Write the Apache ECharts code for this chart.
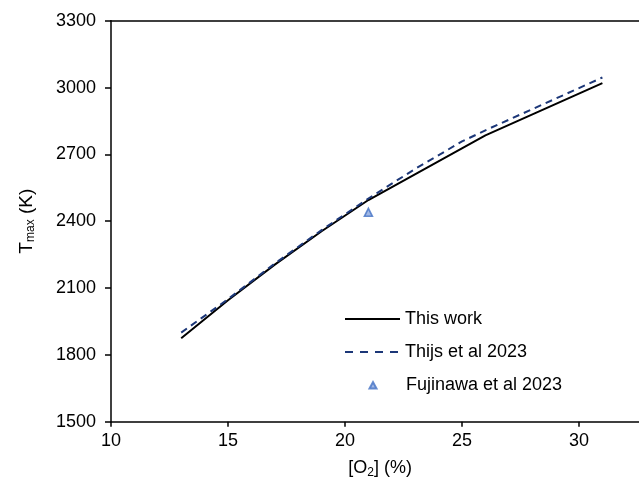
<!DOCTYPE html>
<html>
<head>
<meta charset="utf-8">
<script src="https://cdn.jsdelivr.net/npm/echarts@6/dist/echarts.min.js"></script>
<style>
  html, body { margin: 0; padding: 0; background: #fff; }
  #chart { width: 639px; height: 486px; }
</style>
</head>
<body>
<div id="chart"></div>
<script>
// Peak temperature vs oxygen concentration
const o2ThisWork = [13, 15, 17, 19, 21, 26, 31];
const tThisWork = [1875, 2045, 2205, 2355, 2495, 2785, 3020];

const o2Thijs = [13, 15, 17, 19, 21, 23, 25, 26, 31];
const tThijs = [1900, 2050, 2210, 2360, 2502, 2635, 2758, 2808, 3045];

const o2Fujinawa = [21];
const tFujinawa = [2440];

const seriesNames = ['This work', 'Thijs et al 2023', 'Fujinawa et al 2023'];

const yTicks = [1500, 1800, 2100, 2400, 2700, 3000, 3300];

const pairs = (xs, ys) => xs.map((x, i) => [x, ys[i]]);

const FONT = 'Liberation Sans, Arial, sans-serif';
const DASH_COLOR = '#1c3778';

const chart = echarts.init(document.getElementById('chart'), null, { renderer: 'canvas' });

const legendText = { fontFamily: FONT, fontSize: 18, color: '#000' };

// legend icons drawn in a 55x14 box
const solidIcon = 'path://M0,6 L55,6 L55,8 L0,8 Z';
const dashIcon = 'path://M0,6 L8,6 L8,8 L0,8 Z M15,6 L23,6 L23,8 L15,8 Z M30,6 L38,6 L38,8 L30,8 Z M45,6 L53,6 L53,8 L45,8 Z M55,7 Z';
const triIcon = 'path://M0,0 Z M55,14 Z M23.5,10.5 L27,4 L30.5,10.5 Z';

chart.setOption({
  animation: false,
  backgroundColor: '#fff',
  grid: {
    left: 111, top: 20.7, height: 401, width: 538.2,
    containLabel: false, outerBoundsMode: 'none'
  },
  legend: [
    {
      data: [{ name: seriesNames[0], icon: solidIcon }],
      left: 340, top: 305, itemWidth: 55, itemHeight: 14, textStyle: legendText
    },
    {
      data: [{ name: seriesNames[1], icon: dashIcon }],
      left: 340, top: 338, itemWidth: 55, itemHeight: 14, textStyle: legendText
    },
    {
      data: [{ name: seriesNames[2], icon: triIcon }],
      left: 340, top: 371, itemWidth: 55, itemHeight: 14, textStyle: legendText
    }
  ],
  xAxis: [
    {
      type: 'value', min: 10, max: 33, interval: 5,
      name: '{a|[O}{b|2}{a|] (%)}', nameLocation: 'middle', nameGap: 36,
      nameTextStyle: {
        rich: {
          a: { fontFamily: FONT, fontSize: 18, color: '#000' },
          b: { fontFamily: FONT, fontSize: 12, color: '#000', padding: [9, 0, 0, 0] }
        }
      },
      axisLine: { show: true, onZero: false, lineStyle: { color: '#000', width: 1.5 } },
      axisTick: { show: true, inside: false, length: 5, lineStyle: { color: '#000', width: 1.5 } },
      axisLabel: {
        fontFamily: FONT, fontSize: 18, color: '#000', margin: 10,
        formatter: v => (v % 5 === 0 && v <= 30 ? String(v) : '')
      },
      splitLine: { show: false }
    },
    {
      type: 'value', position: 'top', min: 10, max: 33,
      axisLine: { show: true, onZero: false, lineStyle: { color: '#000', width: 1.5 } },
      axisTick: { show: false }, axisLabel: { show: false }, splitLine: { show: false }
    }
  ],
  yAxis: {
    type: 'value', min: yTicks[0], max: yTicks[yTicks.length - 1], interval: 300,
    name: '{a|T}{b|max}{a| (K)}', nameLocation: 'middle', nameGap: 74, nameRotate: 90,
    nameTextStyle: {
      rich: {
        a: { fontFamily: FONT, fontSize: 19, color: '#000' },
        b: { fontFamily: FONT, fontSize: 12, color: '#000', padding: [9, 0, 0, 0] }
      }
    },
    axisLine: { show: true, onZero: false, lineStyle: { color: '#000', width: 1.5 } },
    axisTick: { show: true, inside: false, length: 6, lineStyle: { color: '#000', width: 1.5 } },
    axisLabel: {
      fontFamily: FONT, fontSize: 18, color: '#000', margin: 15,
      formatter: v => String(v)
    },
    splitLine: { show: false }
  },
  series: [
    {
      name: seriesNames[0], type: 'line', data: pairs(o2ThisWork, tThisWork),
      showSymbol: false, symbol: 'none', smooth: false,
      lineStyle: { color: '#000', width: 2 }, itemStyle: { color: '#000' }
    },
    {
      name: seriesNames[1], type: 'line', data: pairs(o2Thijs, tThijs),
      showSymbol: false, symbol: 'none', smooth: false,
      lineStyle: { color: DASH_COLOR, width: 2, type: [7, 5] }, itemStyle: { color: DASH_COLOR }
    },
    {
      name: seriesNames[2], type: 'scatter', data: pairs(o2Fujinawa, tFujinawa),
      symbol: 'triangle', symbolSize: 8,
      itemStyle: { color: '#8aa6de', borderColor: '#4472C4', borderWidth: 1.6 }
    }
  ]
});
</script>
</body>
</html>
